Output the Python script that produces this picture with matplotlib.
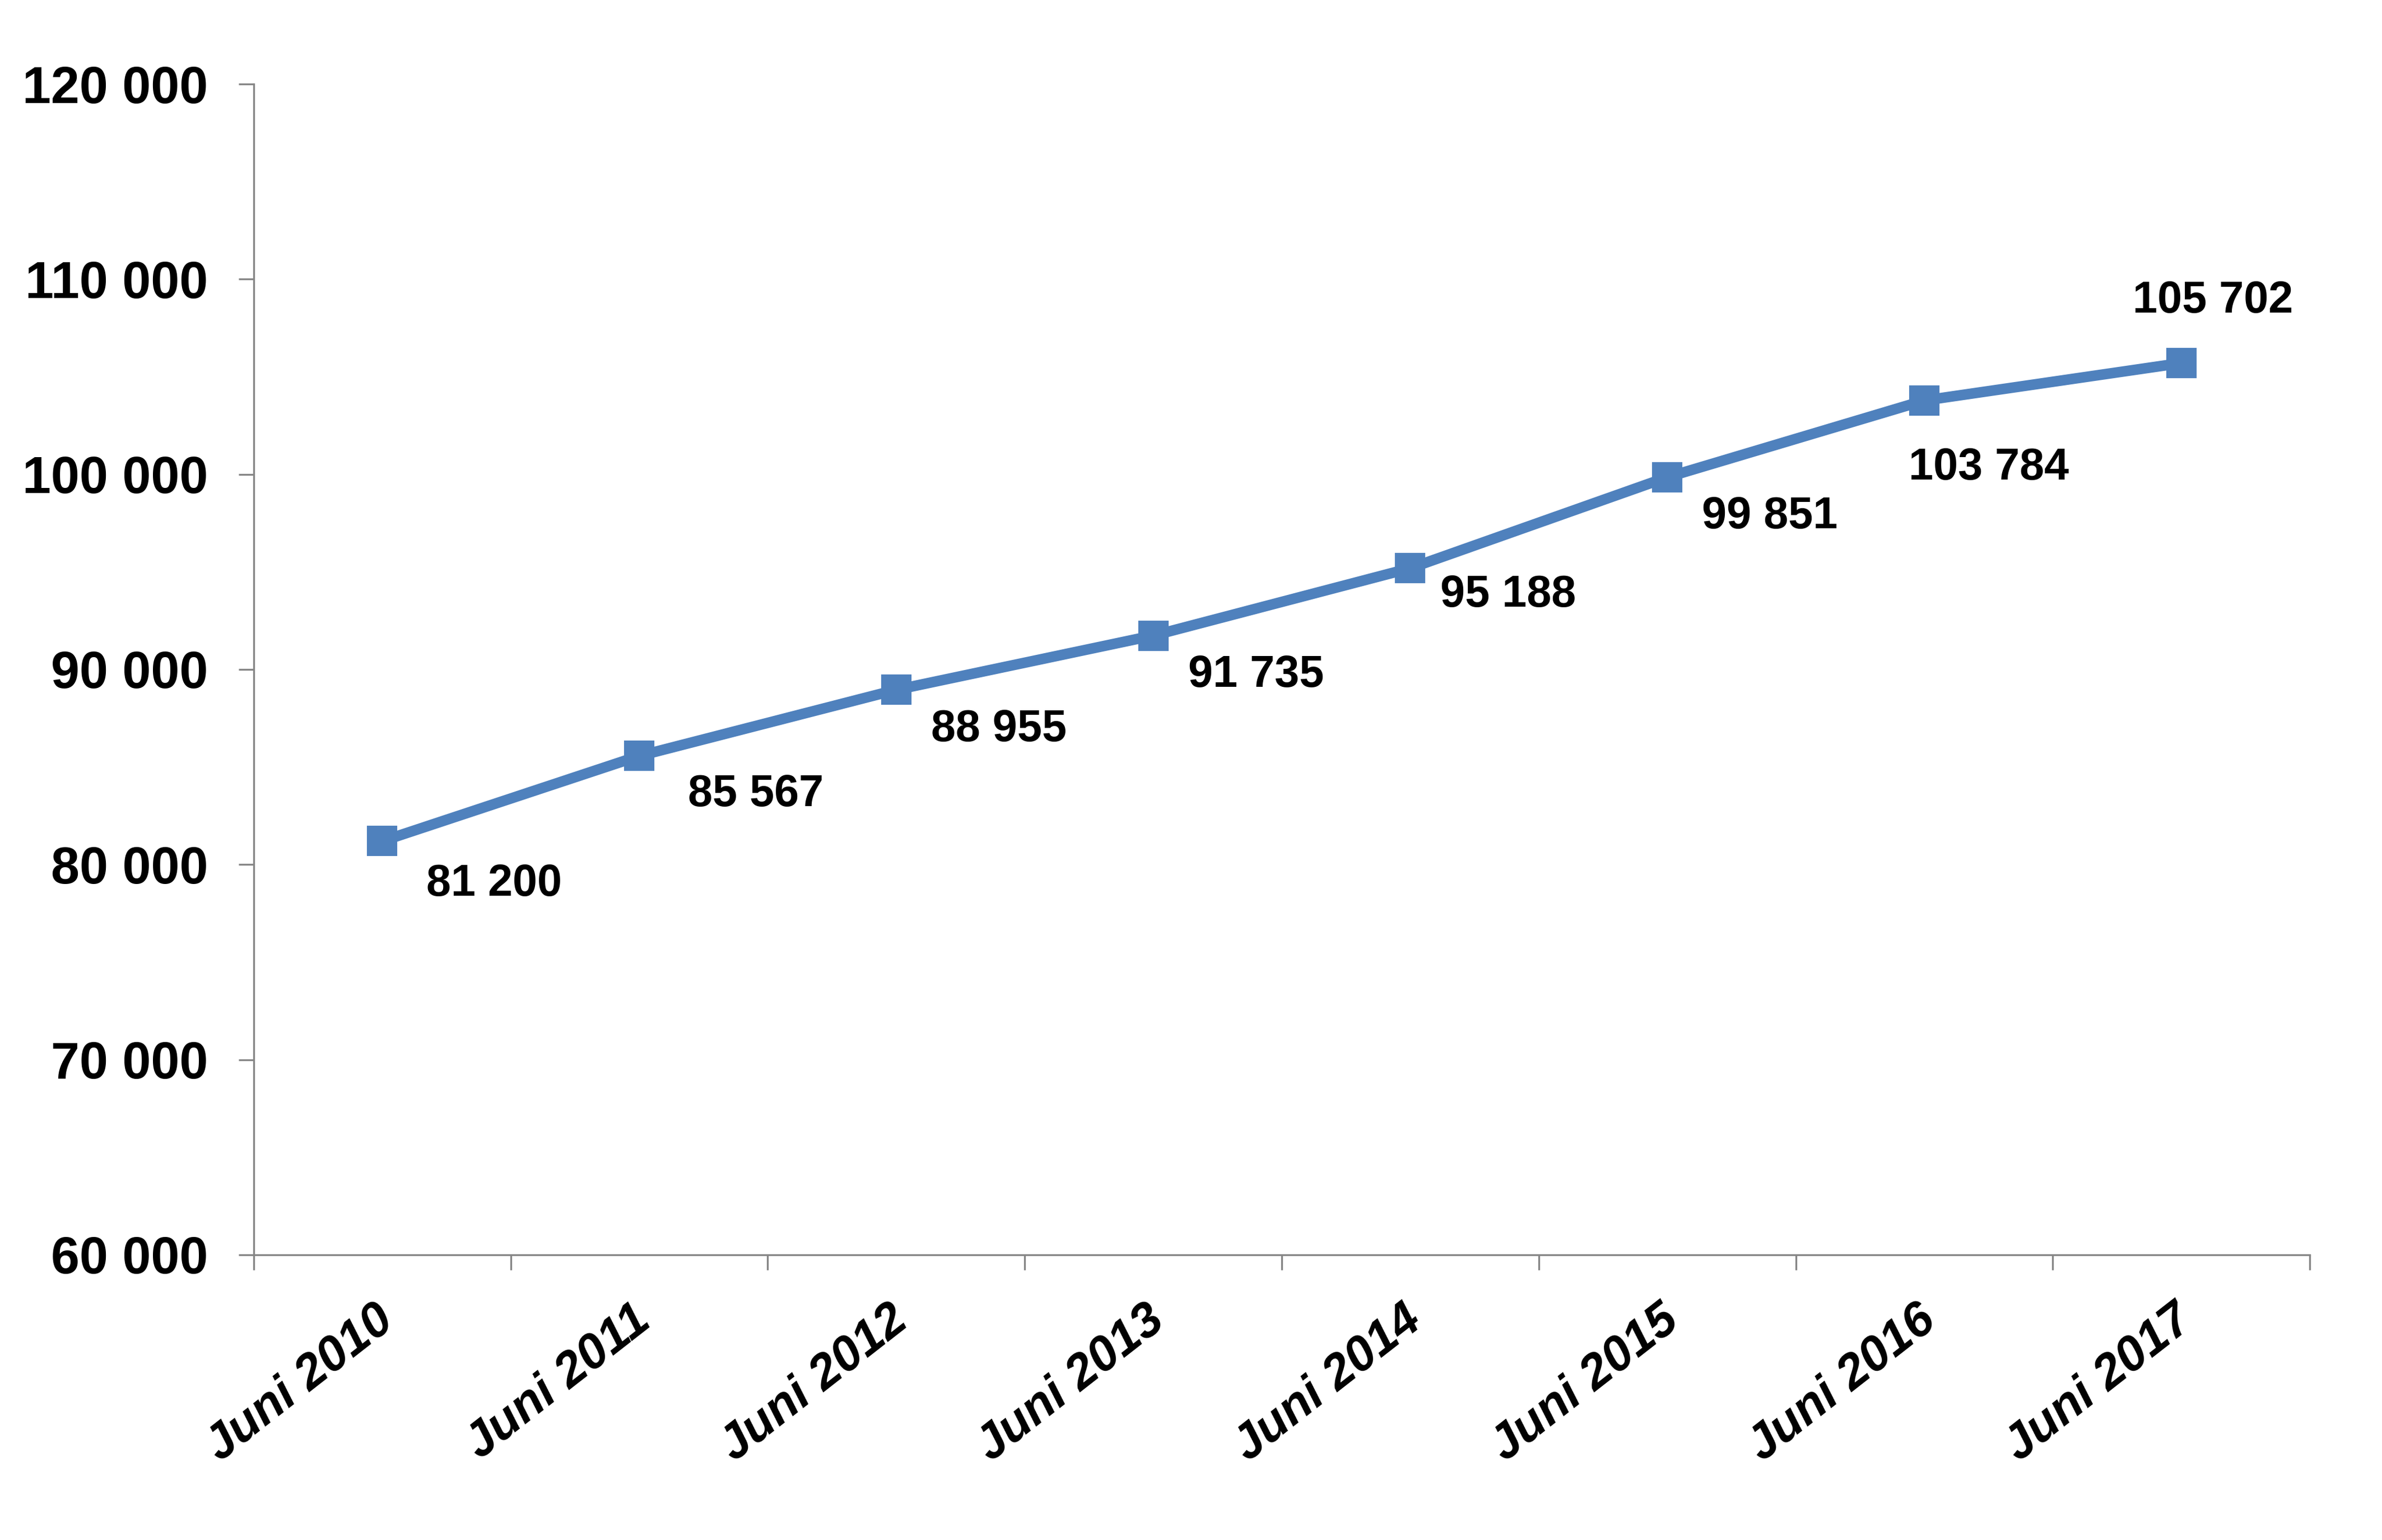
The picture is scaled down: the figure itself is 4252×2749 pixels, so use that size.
import numpy as np
import matplotlib
matplotlib.use("Agg")
import matplotlib.pyplot as plt
import matplotlib.transforms as mtransforms
from matplotlib.ticker import FixedLocator, FuncFormatter

# --- data ---
categories = ["Juni 2010", "Juni 2011", "Juni 2012", "Juni 2013",
              "Juni 2014", "Juni 2015", "Juni 2016", "Juni 2017"]
values = [81200, 85567, 88955, 91735, 95188, 99851, 103784, 105702]
y_ticks = [60000, 70000, 80000, 90000, 100000, 110000, 120000]

# label offsets in points (dx, dy) relative to each marker
label_offsets = [(48, -18.5), (50, -16.5), (44, -17), (44, -17),
                 (42, -11.5), (44, -17), (27.5, -29), (13.5, 26.5)]

LINE_COLOR = "#4F81BD"
AXIS_COLOR = "#868686"


def fmt(v, pos=None):
    return f"{int(v):,}".replace(",", " ")


plt.rcParams["font.family"] = ["Liberation Sans", "DejaVu Sans"]

fig = plt.figure(figsize=(4252 / 300, 2749 / 300), dpi=300)
ax = fig.add_axes([0.1065, 0.1852, 0.9697 - 0.1065, 0.9454 - 0.1852])

x = np.arange(len(categories))
ax.plot(x, values, color=LINE_COLOR, linewidth=4.5, marker="s",
        markersize=12, markerfacecolor=LINE_COLOR, markeredgecolor=LINE_COLOR,
        solid_joinstyle="round", zorder=3)

for xi, v, (dx, dy) in zip(x, values, label_offsets):
    ax.annotate(fmt(v), (xi, v), xytext=(dx, dy), textcoords="offset points",
                ha="center", va="center", fontsize=19, fontweight="bold",
                color="black")

ax.set_xlim(-0.5, len(categories) - 0.5)
ax.set_ylim(y_ticks[0], y_ticks[-1])

# y axis
ax.yaxis.set_major_locator(FixedLocator(y_ticks))
ax.yaxis.set_major_formatter(FuncFormatter(fmt))
ax.tick_params(axis="y", which="major", direction="out", length=6.5,
               width=0.8, color=AXIS_COLOR, pad=13, labelsize=22)
for lab in ax.get_yticklabels():
    lab.set_fontweight("bold")

# x axis: labels at centers, ticks at boundaries
ax.set_xticks(x)
ax.set_xticklabels(categories, rotation=38, ha="right", va="top",
                   rotation_mode="anchor", fontsize=21, fontweight="bold",
                   fontstyle="italic")
ax.set_xticks(np.arange(-0.5, len(categories)), minor=True)
ax.tick_params(axis="x", which="major", length=0, pad=18)
ax.tick_params(axis="x", which="minor", direction="out", length=6.5,
               width=0.8, color=AXIS_COLOR)
shift = mtransforms.ScaledTranslation(-3.5 / 72, 0, fig.dpi_scale_trans)
for lab in ax.get_xticklabels():
    lab.set_transform(lab.get_transform() + shift)

for side in ["top", "right"]:
    ax.spines[side].set_visible(False)
for side in ["left", "bottom"]:
    ax.spines[side].set_color(AXIS_COLOR)
    ax.spines[side].set_linewidth(0.8)

fig.savefig("out.png", dpi=300, facecolor="white")
